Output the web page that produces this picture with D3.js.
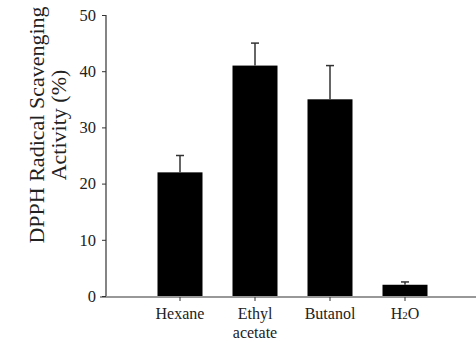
<!DOCTYPE html>
<html>
<head>
<meta charset="utf-8">
<script src="https://cdn.jsdelivr.net/npm/d3@7"></script>
<style>
  body { margin: 0; background: #fff; }
  svg text { font-family: "Liberation Serif", "Times New Roman", serif; fill: #222; }
</style>
</head>
<body>
<div id="graphArea"></div>
<script>
var solvents = ["Hexane", "Ethyl acetate", "Butanol", "H2O"];
var activity = [22, 41, 35, 2];
var errors = [3, 4, 6, 0.5];
var yTicks = [0, 10, 20, 30, 40, 50];

function visualize() {
    var w = 476, h = 343;

    var svg = d3.select("#graphArea").append("svg").attr("width", w).attr("height", h);

    var x = d3.scaleBand().domain(solvents).range([142.5, 442.5]).paddingInner(0.4).paddingOuter(0.2);
    var y = d3.scaleLinear().domain([0, 50]).range([296, 15]);

    // bars
    svg.selectAll("rect.bar")
        .data(solvents)
        .enter()
        .append("rect")
        .attr("class", "bar")
        .attr("x", (d) => x(d))
        .attr("y", (d, i) => y(activity[i]))
        .attr("width", x.bandwidth())
        .attr("height", (d, i) => y(0) - y(activity[i]))
        .style("fill", "#000");

    // error bars (upper only)
    var err = svg.selectAll("g.err")
        .data(solvents)
        .enter()
        .append("g")
        .attr("class", "err")
        .attr("transform", (d) => "translate(" + (x(d) + x.bandwidth() / 2) + ",0)");

    err.append("line")
        .attr("y1", (d, i) => y(activity[i]))
        .attr("y2", (d, i) => y(activity[i] + errors[i]))
        .style("stroke", "#333")
        .style("stroke-width", 1.5);

    err.append("line")
        .attr("x1", -4).attr("x2", 4)
        .attr("y1", (d, i) => y(activity[i] + errors[i]))
        .attr("y2", (d, i) => y(activity[i] + errors[i]))
        .style("stroke", "#333")
        .style("stroke-width", 1.5);

    // y axis
    var yAxis = d3.axisLeft(y).tickValues(yTicks).tickSize(4).tickPadding(6);
    var yg = svg.append("g").attr("id", "y-axis").attr("transform", "translate(106,0)").call(yAxis);
    yg.select(".domain").attr("d", "M0," + y(50) + "V" + y(0)).style("stroke", "#333").style("stroke-width", 1.2);
    yg.selectAll(".tick line").style("stroke", "#333");
    yg.selectAll(".tick text").style("font-size", "16.5px").style("font-family", "'Liberation Serif', serif").style("fill", "#222");

    // x axis
    var xAxis = d3.axisBottom(x).tickSize(4).tickFormat("");
    var xg = svg.append("g").attr("id", "x-axis").attr("transform", "translate(0,297)").call(xAxis);
    xg.select(".domain").attr("d", "M100,0H476").style("stroke", "#333").style("stroke-width", 1.2);
    xg.selectAll(".tick line").style("stroke", "#333");

    // category labels
    var labels = svg.append("g").selectAll("text")
        .data(solvents)
        .enter()
        .append("text")
        .attr("x", (d) => x(d) + x.bandwidth() / 2)
        .attr("y", 319)
        .style("text-anchor", "middle")
        .style("font-size", "16px");

    labels.each(function (d) {
        var t = d3.select(this);
        if (d === "Ethyl acetate") {
            t.append("tspan").attr("x", x(d) + x.bandwidth() / 2).attr("dy", 0).text("Ethyl");
            t.append("tspan").attr("x", x(d) + x.bandwidth() / 2).attr("dy", 19).text("acetate");
        } else if (d === "H2O") {
            t.append("tspan").text("H");
            t.append("tspan").style("font-size", "11px").text("2");
            t.append("tspan").text("O");
        } else {
            t.text(d);
        }
    });

    // y axis title
    var title = svg.append("text")
        .attr("transform", "translate(0,125) rotate(-90)")
        .style("text-anchor", "middle")
        .style("font-size", "22px");
    title.append("tspan").attr("x", 0).attr("y", 44).text("DPPH Radical Scavenging");
    title.append("tspan").attr("x", 0).attr("y", 66).text("Activity (%)");
}

document.addEventListener("DOMContentLoaded", () => {
    visualize();
});
</script>
</body>
</html>
